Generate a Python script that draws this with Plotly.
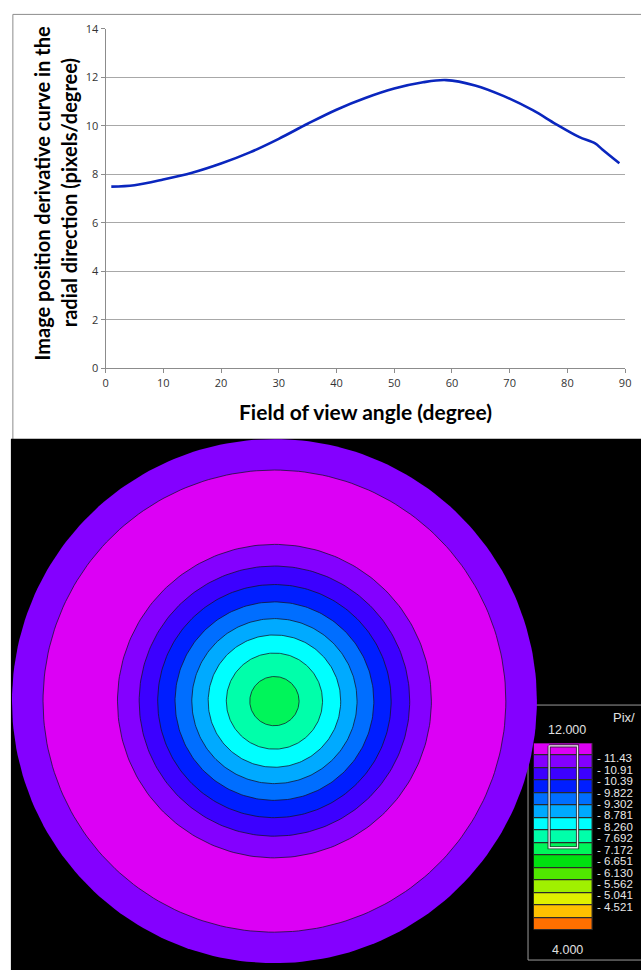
import numpy as np
import plotly.graph_objects as go

W, H = 641, 970


def px(x):
    return x / W


def py(y):
    return (H - y) / H


# ---- derivative curve data ----
angle_deg = [1, 5, 10, 15, 20, 25, 30, 35, 40, 45, 50, 55, 59, 64, 69, 74, 78, 82, 84.8, 86, 89]
derivative = [7.49, 7.55, 7.78, 8.06, 8.44, 8.90, 9.46, 10.08, 10.66, 11.14, 11.53, 11.79,
              11.88, 11.66, 11.22, 10.64, 10.07, 9.54, 9.27, 9.03, 8.45]

# ---- colour scale of the sensor map ----
level_edges = [12.000, 11.438, 10.91, 10.39, 9.822, 9.302, 8.781, 8.260, 7.692, 7.172,
               6.651, 6.130, 5.562, 5.041, 4.521, 4.000]
level_labels = ["- 11.43", "- 10.91", "- 10.39", "- 9.822", "- 9.302", "- 8.781", "- 8.260",
                "- 7.692", "- 7.172", "- 6.651", "- 6.130", "- 5.562", "- 5.041", "- 4.521"]
band_colors = ["#DC00F5", "#8400FF", "#3C00FF", "#001EFF", "#006EFF", "#00AAFF", "#00FFFF",
               "#00FFAA", "#00F55A", "#00E010", "#50E800", "#A0F000", "#E0F000", "#FFC000",
               "#FF7000"]

# ---- concentric zones of the map: outer radius (px) and colour band ----
zone_radius = [266.2, 234.7, 159.2, 137.2, 118.4, 100.8, 83.8, 67.2, 48.8, 25.0]
zone_band = [1, 0, 1, 2, 3, 4, 5, 6, 7, 8]

fig = go.Figure()

# top chart: derivative curve
fig.add_trace(go.Scatter(
    x=angle_deg, y=derivative, mode="lines",
    line=dict(color="#0A26BE", width=2.6, shape="spline", smoothing=1.0),
    xaxis="x", yaxis="y", showlegend=False, hoverinfo="skip"))

# bottom: concentric zones
cx, cy = 275.3, H - 704.0
theta = np.linspace(0, 2 * np.pi, 241)
for i, (r, b) in enumerate(zip(zone_radius, zone_band)):
    edge = "rgba(0,0,0,0)" if i == 0 else "rgba(20,20,40,0.75)"
    fig.add_trace(go.Scatter(
        x=cx + r * np.cos(theta), y=cy + r * np.sin(theta),
        mode="lines", fill="toself", fillcolor=band_colors[b],
        line=dict(color=edge, width=1),
        xaxis="x2", yaxis="y2", showlegend=False, hoverinfo="skip"))

# colour scale bands
n_bands = len(band_colors)
fig.add_trace(go.Bar(
    x=[0] * n_bands, y=[1] * n_bands, base=list(range(n_bands)), width=1,
    orientation="v",
    marker=dict(color=band_colors, line=dict(color="#2a2a2a", width=1.2)),
    xaxis="x3", yaxis="y3", showlegend=False, hoverinfo="skip"))

# data range marker on the colour scale
edges_rev = level_edges[::-1]
idx_rev = list(range(n_bands, -1, -1))
pos_max = float(np.interp(max(derivative), edges_rev, idx_rev))
pos_min = float(np.interp(min(derivative), edges_rev, idx_rev))
box_x = [-0.24, 0.24, 0.24, -0.24, -0.24]
box_y = [pos_max, pos_max, pos_min, pos_min, pos_max]
for col, wd in (("rgba(30,30,30,0.8)", 3.2), ("#F0F0F0", 1.3)):
    fig.add_trace(go.Scatter(
        x=box_x, y=box_y, mode="lines", line=dict(color=col, width=wd),
        xaxis="x3", yaxis="y3", showlegend=False, hoverinfo="skip"))

tick_font = dict(family="Open Sans", size=11, color="#333333")
shapes = [
    # chart frame
    dict(type="rect", xref="paper", yref="paper", x0=px(10), x1=px(700), y0=py(500), y1=py(6.5),
         line=dict(color="#8C8C8C", width=1), fillcolor="rgba(0,0,0,0)", layer="below"),
    # black map background
    dict(type="rect", xref="paper", yref="paper", x0=px(8), x1=px(700), y0=py(1000), y1=py(437.5),
         line=dict(width=0), fillcolor="#000000", layer="below"),
    # colour scale box
    dict(type="rect", xref="paper", yref="paper", x0=px(532.5), x1=px(700), y0=py(967), y1=py(708),
         line=dict(color="#9A9A9A", width=1), fillcolor="#000000", layer="below"),
]


def note(text, x, y, size, family="Liberation Sans", color="#E0E0E0", xanchor="center", angle=0):
    return dict(text=text, x=px(x), y=py(y), xref="paper", yref="paper", xanchor=xanchor,
                yanchor="middle", showarrow=False, textangle=angle, borderpad=0,
                font=dict(family=family, size=size, color=color))


annotations = [
    note("<b>Field of view angle (degree)</b>", 368, 410, 21, "Lato", "#000000"),
    note("<b>Image position derivative curve in the</b>", 40, 188, 20, "Lato", "#000000", angle=-90),
    note("<b>radial direction (pixels/degree)</b>", 67, 188, 20, "Lato", "#000000", angle=-90),
    note("Pix/", 618, 721, 13, xanchor="left"),
    note("12.000", 572.5, 733, 12.5),
    note("4.000", 572.5, 957, 12.5),
]
for k, lab in enumerate(level_labels):
    yy = 762 + k * (913 - 762) / (len(level_labels) - 1)
    annotations.append(note(lab, 601, yy, 11.5, color="#E8E8E8", xanchor="left"))

fig.update_layout(
    width=W, height=H, margin=dict(l=0, r=0, t=0, b=0),
    paper_bgcolor="#FFFFFF", plot_bgcolor="rgba(0,0,0,0)",
    xaxis=dict(domain=[px(104), px(631)], range=[0, 90], dtick=10, showgrid=False, zeroline=False,
               showline=True, linecolor="#8C8C8C", linewidth=1, ticks="outside", ticklen=4,
               tickcolor="#8C8C8C", tickfont=tick_font, fixedrange=True),
    yaxis=dict(domain=[py(366), py(21)], range=[0, 14], dtick=2, showgrid=True, gridcolor="#A8A8A8",
               gridwidth=1, zeroline=False, showline=True, linecolor="#8C8C8C", linewidth=1,
               ticks="outside", ticklen=4, tickcolor="#8C8C8C", tickfont=tick_font, fixedrange=True),
    xaxis2=dict(domain=[0, 1], range=[0, W], visible=False, fixedrange=True),
    yaxis2=dict(domain=[0, py(438)], range=[0, H - 438], visible=False, fixedrange=True),
    xaxis3=dict(domain=[px(538.3), px(598.3)], range=[-0.5, 0.5], visible=False, fixedrange=True),
    yaxis3=dict(domain=[py(936.7), py(746.7)], range=[n_bands, 0], visible=False, fixedrange=True),
    shapes=shapes, annotations=annotations, bargap=0,
)

fig.write_html("out.html")
